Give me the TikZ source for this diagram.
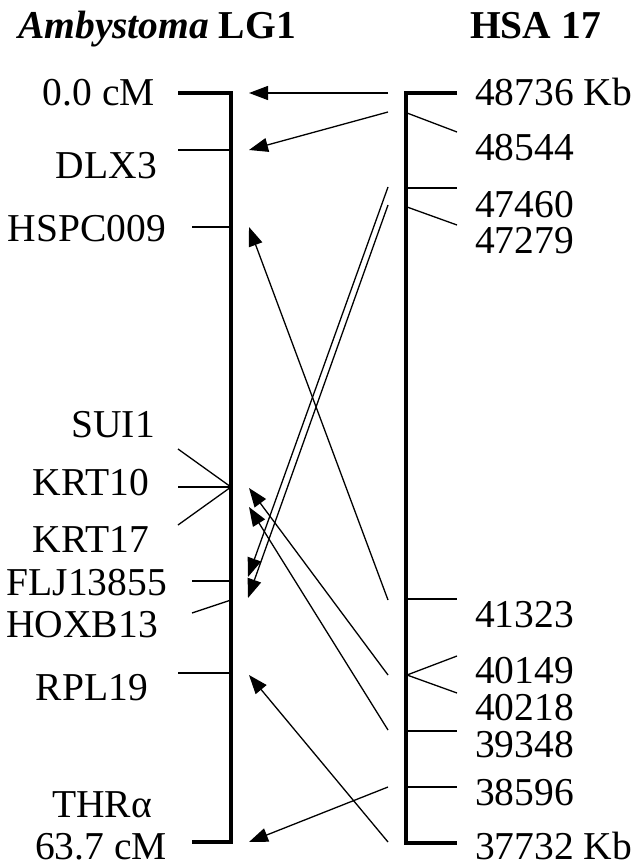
\documentclass[tikz,border=0pt]{standalone}
\usepackage{fontspec}
\setmainfont{Liberation Serif}
\usetikzlibrary{arrows.meta}
\begin{document}
\begin{tikzpicture}[x=1pt,y=-1pt,
  bar/.style={line width=3.2pt,line join=miter},
  tick/.style={line width=1.3pt},
  arr/.style={line width=1.3pt,-{Triangle[length=19pt,width=14pt]}},
  lab/.style={font=\fontsize{39.5}{42}\selectfont,inner sep=0pt},
  ttl/.style={font=\fontsize{39.5}{42}\selectfont\bfseries,inner sep=0pt}]
\useasboundingbox (0,0) rectangle (633,867);
% titles
\node[ttl,anchor=base west] (t1) at (18,39) {\textit{Ambystoma} LG1};
\node[ttl,anchor=base west] (t2) at (470,39) {HSA 17};
% chromosome bars
\coordinate (Ltop) at (231,93);  \coordinate (Lbot) at (231,842);
\coordinate (Rtop) at (406,93);  \coordinate (Rbot) at (406,843);
\coordinate (LtopE) at (178,93); \coordinate (LbotE) at (192,842);
\coordinate (RtopE) at (457,93); \coordinate (RbotE) at (457,843);
\draw[bar] (LtopE) -- (Ltop) -- (Lbot) -- (LbotE);
\draw[bar] (RtopE) -- (Rtop) -- (Rbot) -- (RbotE);
% left labels
\node[lab,anchor=base east] (l0) at (155,105) {0.0 cM};
\node[lab,anchor=base east] (l1) at (157,178) {DLX3};
\node[lab,anchor=base east] (l2) at (166,241) {HSPC009};
\node[lab,anchor=base east] (l3) at (155,437) {SUI1};
\node[lab,anchor=base east] (l4) at (149,495) {KRT10};
\node[lab,anchor=base east] (l5) at (149,552) {KRT17};
\node[lab,anchor=base east] (l6) at (167,595) {FLJ13855};
\node[lab,anchor=base east] (l7) at (158,637) {HOXB13};
\node[lab,anchor=base east] (l8) at (148,700) {RPL19};
\node[lab,anchor=base east] (l9) at (152,817) {THRα};
\node[lab,anchor=base east] (l10) at (167,859) {63.7 cM};
% right labels
\node[lab,anchor=base west] (r0) at (475,105) {48736 Kb};
\node[lab,anchor=base west] (r1) at (475,160) {48544};
\node[lab,anchor=base west] (r2) at (475,217) {47460};
\node[lab,anchor=base west] (r3) at (475,253) {47279};
\node[lab,anchor=base west] (r4) at (475,627) {41323};
\node[lab,anchor=base west] (r5) at (475,683) {40149};
\node[lab,anchor=base west] (r6) at (475,720) {40218};
\node[lab,anchor=base west] (r7) at (475,757) {39348};
\node[lab,anchor=base west] (r8) at (475,805) {38596};
\node[lab,anchor=base west] (r9) at (475,859) {37732 Kb};
% left ticks
\coordinate (Ldlx) at (231,150);  \coordinate (LdlxE) at (178,150);
\coordinate (Lhsp) at (231,227);  \coordinate (LhspE) at (192,227);
\coordinate (Lkrt) at (231,487);  \coordinate (LsuiE) at (178,449);
\coordinate (LkrtE) at (178,487); \coordinate (Lk17E) at (178,525);
\coordinate (Lflj) at (231,581);  \coordinate (LfljE) at (192,581);
\coordinate (Lhox) at (231,600);  \coordinate (LhoxE) at (192,613);
\coordinate (Lrpl) at (231,673);  \coordinate (LrplE) at (178,673);
\draw[tick] (LdlxE) -- (Ldlx);
\draw[tick] (LhspE) -- (Lhsp);
\draw[tick] (LsuiE) -- (Lkrt);
\draw[tick] (LkrtE) -- (Lkrt);
\draw[tick] (Lk17E) -- (Lkrt);
\draw[tick] (LfljE) -- (Lflj);
\draw[tick] (LhoxE) -- (Lhox);
\draw[tick] (LrplE) -- (Lrpl);
% right ticks
\coordinate (R48544) at (407,113); \coordinate (R48544E) at (457,132);
\coordinate (R47460) at (406,188); \coordinate (R47460E) at (457,188);
\coordinate (R47279) at (407,207); \coordinate (R47279E) at (457,225);
\coordinate (R41323) at (406,599); \coordinate (R41323E) at (457,599);
\coordinate (R401) at (407,675);   \coordinate (R40149E) at (457,656);
\coordinate (R40218E) at (457,693);
\coordinate (R39348) at (406,731); \coordinate (R39348E) at (457,731);
\coordinate (R38596) at (406,787); \coordinate (R38596E) at (457,787);
\draw[tick] (R48544) -- (R48544E);
\draw[tick] (R47460) -- (R47460E);
\draw[tick] (R47279) -- (R47279E);
\draw[tick] (R41323) -- (R41323E);
\draw[tick] (R40149E) -- (R401) -- (R40218E);
\draw[tick] (R39348) -- (R39348E);
\draw[tick] (R38596) -- (R38596E);
% arrows
\coordinate (s1) at (388,93);  \coordinate (e1) at (249,93);
\coordinate (s2) at (388,112); \coordinate (e2) at (249,150);
\coordinate (s3) at (388,600); \coordinate (e3) at (249,227);
\coordinate (s4) at (388,187); \coordinate (e4) at (248,577);
\coordinate (s5) at (388,205); \coordinate (e5) at (248,598);
\coordinate (s6) at (388,675); \coordinate (e6) at (249,488);
\coordinate (s7) at (388,730); \coordinate (e7) at (249,507);
\coordinate (s8) at (388,787); \coordinate (e8) at (249,842);
\coordinate (s9) at (388,842); \coordinate (e9) at (249,675);
\foreach \i in {1,...,9} \draw[arr] (s\i) -- (e\i);
\end{tikzpicture}
\end{document}
